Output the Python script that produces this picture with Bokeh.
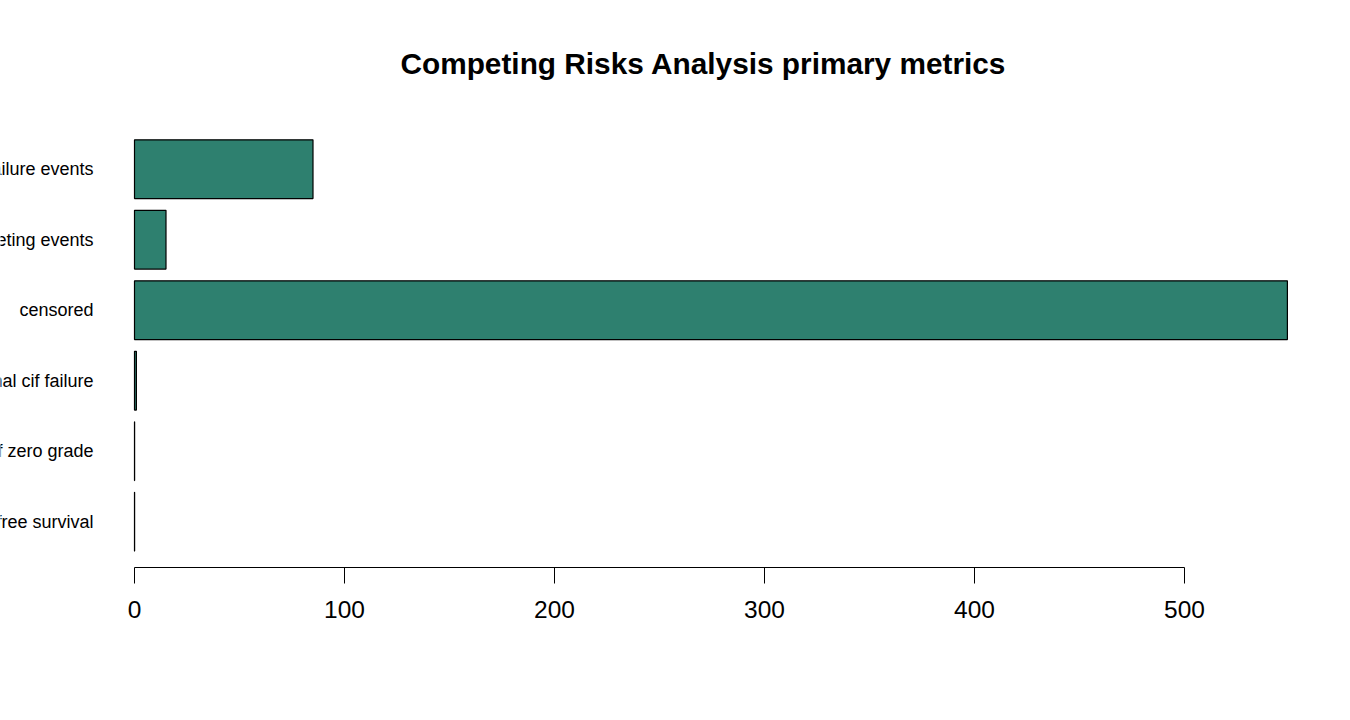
from bokeh.plotting import figure
from bokeh.models import ColumnDataSource, Range1d, FixedTicker
from bokeh.core.properties import value
from bokeh.embed import file_html
from bokeh.resources import INLINE

# ---- data (top to bottom as in the reference) ----
metrics = ["number of failure events", "number of competing events", "censored",
           "final cif failure", "cif zero grade", "failure free survival"]
values = [85, 15, 549, 0.9, 0.05, 0.05]
x_ticks = [0, 100, 200, 300, 400, 500]
title_text = "Competing Risks Analysis primary metrics"

FONT = "Liberation Sans"
BAR_COLOR = "#2e806f"

n = len(metrics)
# R barplot layout: width 1, space 0.2; first category at bottom
ypos = [0.7 + 1.2 * (n - 1 - i) for i in range(n)]

W, H = 1334, 700
BOTTOM = 133
PX_X = 2.1          # pixels per x unit
X0_IMG = 134        # image x of value 0
PX_Y = 58.75        # pixels per y unit
y_start = -0.08
y_end = y_start + (H - BOTTOM) / PX_Y
x_start = (0 - X0_IMG) / PX_X
x_end = x_start + W / PX_X

p = figure(width=W, height=H, output_backend="svg", toolbar_location=None,
           x_range=Range1d(x_start, x_end), y_range=Range1d(y_start, y_end),
           min_border_left=0, min_border_right=0, min_border_top=0,
           min_border_bottom=BOTTOM)
p.title = None
p.outline_line_color = None
p.xgrid.visible = False
p.ygrid.visible = False
p.yaxis.visible = False
p.background_fill_color = "white"
p.border_fill_color = "white"

src = ColumnDataSource(dict(y=ypos, v=values, name=metrics))
p.hbar(y="y", left=0, right="v", height=1.0, source=src,
       fill_color=BAR_COLOR, line_color="black", line_width=1.2)

# category labels (clipped at the left edge like the reference)
p.text(x=0, y="y", text="name", source=src, x_offset=-41,
       text_align="right", text_baseline="middle",
       text_font=value(FONT), text_font_size="18px", text_color="black")

# title
p.text(x=[(703 - X0_IMG) / PX_X], y=[y_start + (H - BOTTOM - 63) / PX_Y],
       text=[title_text], text_align="center", text_baseline="middle",
       text_font=value(FONT), text_font_size="29.8px", text_font_style="bold",
       text_color="black")

ax = p.xaxis[0]
ax.bounds = (0, 500)
ax.ticker = FixedTicker(ticks=x_ticks)
ax.axis_line_color = "black"
ax.axis_line_width = 1
ax.major_tick_line_color = "black"
ax.major_tick_in = 0
ax.major_tick_out = 16
ax.minor_tick_line_color = None
ax.major_label_text_font = FONT
ax.major_label_text_font_size = "24.5px"
ax.major_label_text_color = "black"
ax.major_label_standoff = 17

open("out.html", "w").write(file_html(p, INLINE))
